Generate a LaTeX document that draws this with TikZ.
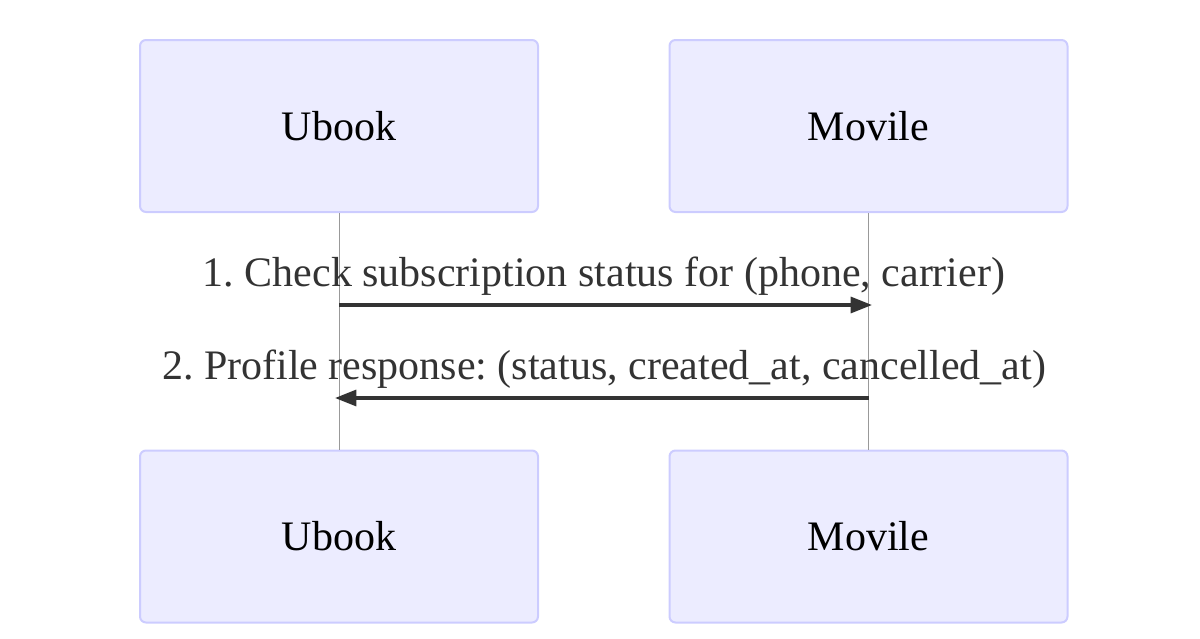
\documentclass[tikz,border=0pt]{standalone}
\usepackage{fontspec}
\setmainfont{Liberation Serif}
\usetikzlibrary{arrows.meta}
\definecolor{actfill}{HTML}{ECECFF}
\definecolor{actdraw}{HTML}{CCCCFF}
\definecolor{msg}{HTML}{333333}
\definecolor{life}{HTML}{999999}
\frenchspacing
\tikzset{
  actor/.style={draw=actdraw, fill=actfill, line width=1.5pt, rounded corners=4.5pt,
    minimum width=298.5pt, minimum height=129pt, inner sep=0pt, font=\fontsize{31.5}{36}\selectfont},
  lifeline/.style={draw=life, line width=0.75pt},
  message/.style={draw=msg, line width=2.4pt, -{Triangle[length=16pt,width=12pt]}},
  msglabel/.style={text=msg, font=\fontsize{31.5}{36}\selectfont, inner sep=0pt}
}
\begin{document}
\begin{tikzpicture}[x=0.75pt,y=-0.75pt]
\useasboundingbox (0,0) rectangle (1200,639);
\node[actor] (ua) at (339,126) {Ubook};
\node[actor] (ma) at (868.5,126) {Movile};
\node[actor] (ub) at (339,536.5) {Ubook};
\node[actor] (mb) at (868.5,536.5) {Movile};
\draw[lifeline] (ua.south) -- (ub.north);
\draw[lifeline] (ma.south) -- (mb.north);
\coordinate (m1s) at (339,305);
\coordinate (m1e) at (872,305);
\coordinate (m2s) at (868.5,398);
\coordinate (m2e) at (335,398);
\draw[message] (m1s) -- (m1e);
\draw[message] (m2s) -- (m2e);
\node[msglabel] (l1) at (604,276) {1. Check subscription status for (phone, carrier)};
\node[msglabel] (l2) at (604,369) {2. Profile response: (status, created\_at, cancelled\_at)};
\end{tikzpicture}
\end{document}
